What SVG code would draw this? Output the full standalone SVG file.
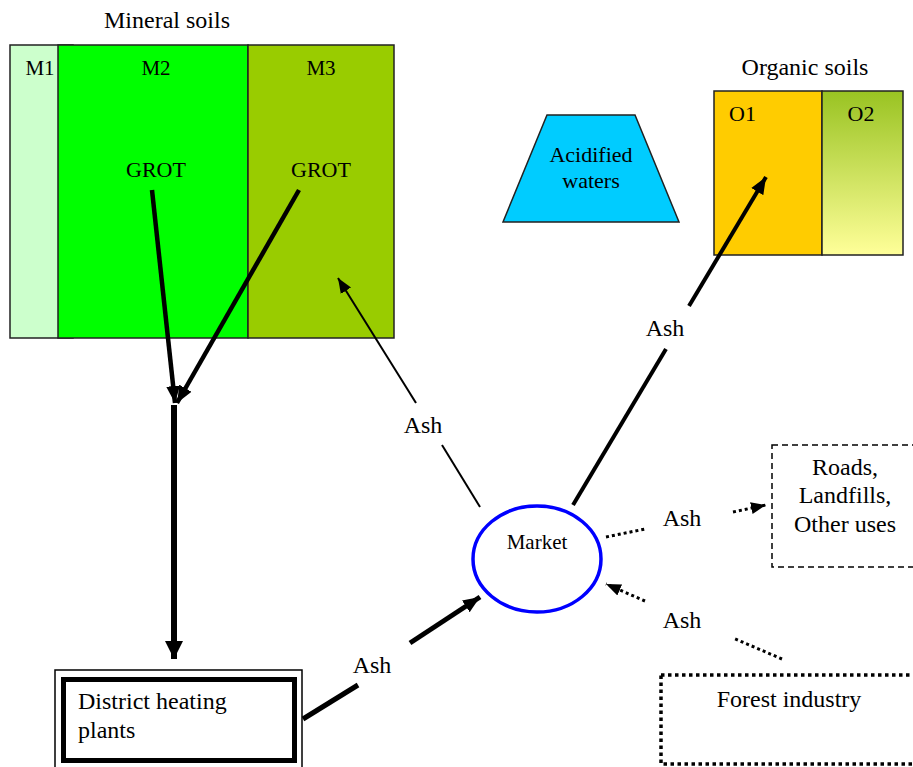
<svg xmlns="http://www.w3.org/2000/svg" width="913" height="767" viewBox="0 0 913 767">
<defs>
<style>
text{font-family:"Liberation Serif","Times New Roman",Times,serif}
.t24{font-size:24px}
.t22{font-size:22px}
.t21{font-size:21px}
.soil{stroke:#222;stroke-width:1.5}
.thick{stroke:#000;fill:none}
.thin{stroke:#000;stroke-width:2;fill:none}
.dot{stroke:#000;stroke-width:3;stroke-dasharray:3 3;fill:none}
</style>
<linearGradient id="o2g" x1="0" y1="0" x2="0" y2="1">
<stop offset="0" stop-color="#99C322"/>
<stop offset="1" stop-color="#FFFF99"/>
</linearGradient>
<marker id="aBig" markerUnits="userSpaceOnUse" markerWidth="20" markerHeight="20" viewBox="0 0 20 20" refX="18" refY="10" orient="auto">
<path d="M0,1 L18,10 L0,19 Z" fill="#000"/>
</marker>
<marker id="aMid" markerUnits="userSpaceOnUse" markerWidth="18" markerHeight="16" viewBox="0 0 18 16" refX="17" refY="8" orient="auto">
<path d="M0,1 L17,8 L0,15 Z" fill="#000"/>
</marker>
<marker id="aSmall" markerUnits="userSpaceOnUse" markerWidth="16" markerHeight="14" viewBox="0 0 16 14" refX="15" refY="7" orient="auto">
<path d="M0,1 L15,7 L0,13 Z" fill="#000"/>
</marker>
</defs>

<g id="mineral-soils">
<text class="t24" x="167" y="28" text-anchor="middle">Mineral soils</text>
<rect class="soil" x="10" y="45" width="63" height="293" fill="#CCFFCC"/>
<rect class="soil" x="58" y="45" width="190" height="293" fill="#00FF00"/>
<rect class="soil" x="248" y="45" width="146" height="293" fill="#99CC00"/>
<text class="t21" x="40" y="75" text-anchor="middle">M1</text>
<text class="t21" x="156" y="75" text-anchor="middle">M2</text>
<text class="t21" x="321" y="75" text-anchor="middle">M3</text>
<text class="t22" x="156" y="177" text-anchor="middle">GROT</text>
<text class="t22" x="321" y="177" text-anchor="middle">GROT</text>
</g>

<g id="acidified-waters">
<polygon points="547,115 635,115 679,222 503,222" fill="#00CCFF" stroke="#222" stroke-width="1.5"/>
<text class="t22" x="591" y="162" text-anchor="middle">Acidified</text>
<text class="t22" x="591" y="188" text-anchor="middle">waters</text>
</g>

<g id="organic-soils">
<text class="t24" x="805" y="75" text-anchor="middle">Organic soils</text>
<rect class="soil" x="714" y="91" width="108" height="164" fill="#FFCC00"/>
<rect class="soil" x="822" y="91" width="81" height="164" fill="url(#o2g)"/>
<text class="t22" x="729" y="121">O1</text>
<text class="t22" x="861" y="121" text-anchor="middle">O2</text>
</g>

<g id="market">
<ellipse cx="537" cy="559" rx="64" ry="53" fill="none" stroke="#0000FF" stroke-width="3.5"/>
<text class="t21" x="537" y="549" text-anchor="middle">Market</text>
</g>

<g id="roads">
<rect x="772" y="445" width="160" height="122" fill="none" stroke="#000" stroke-width="1.5" stroke-dasharray="6 4"/>
<text class="t24" x="845" y="475" text-anchor="middle">Roads,</text>
<text class="t24" x="845" y="503" text-anchor="middle">Landfills,</text>
<text class="t24" x="845" y="532" text-anchor="middle">Other uses</text>
</g>

<g id="forest-industry">
<rect x="661" y="675" width="270" height="89" fill="none" stroke="#000" stroke-width="3.5" stroke-dasharray="3.5 3.5"/>
<text class="t24" x="789" y="707" text-anchor="middle">Forest industry</text>
</g>

<g id="district-heating">
<rect x="55" y="670" width="247" height="120" fill="none" stroke="#000" stroke-width="1.5"/>
<rect x="63.5" y="679.5" width="231" height="81" fill="#fff" stroke="#000" stroke-width="5"/>
<text class="t24" x="78" y="709">District heating</text>
<text class="t24" x="78" y="738">plants</text>
</g>

<g id="connectors">
<line class="thick" style="stroke-width:4.5" x1="152" y1="190" x2="175" y2="403" marker-end="url(#aMid)"/>
<line class="thick" style="stroke-width:4.5" x1="299" y1="190" x2="177" y2="403" marker-end="url(#aMid)"/>
<line class="thick" style="stroke-width:6" x1="174" y1="405" x2="174" y2="659" marker-end="url(#aBig)"/>
<line class="thick" style="stroke-width:5" x1="303" y1="719" x2="358" y2="685"/>
<line class="thick" style="stroke-width:5" x1="410" y1="643" x2="480" y2="597" marker-end="url(#aMid)"/>
<line class="thin" x1="480" y1="507" x2="442" y2="445"/>
<line class="thin" x1="416" y1="403" x2="338" y2="278" marker-end="url(#aSmall)"/>
<line class="thick" style="stroke-width:4" x1="573" y1="505" x2="666" y2="349"/>
<line class="thick" style="stroke-width:4" x1="689" y1="306" x2="766" y2="177" marker-end="url(#aMid)"/>
<line class="dot" x1="606" y1="537" x2="645" y2="529"/>
<line class="dot" x1="733" y1="512" x2="766" y2="505" marker-end="url(#aSmall)"/>
<line class="dot" x1="782" y1="659" x2="733" y2="638"/>
<line class="dot" x1="645" y1="601" x2="606" y2="584" marker-end="url(#aSmall)"/>
<text class="t24" x="423" y="433" text-anchor="middle">Ash</text>
<text class="t24" x="665" y="336" text-anchor="middle">Ash</text>
<text class="t24" x="372" y="673" text-anchor="middle">Ash</text>
<text class="t24" x="682" y="526" text-anchor="middle">Ash</text>
<text class="t24" x="682" y="628" text-anchor="middle">Ash</text>
</g>
</svg>
